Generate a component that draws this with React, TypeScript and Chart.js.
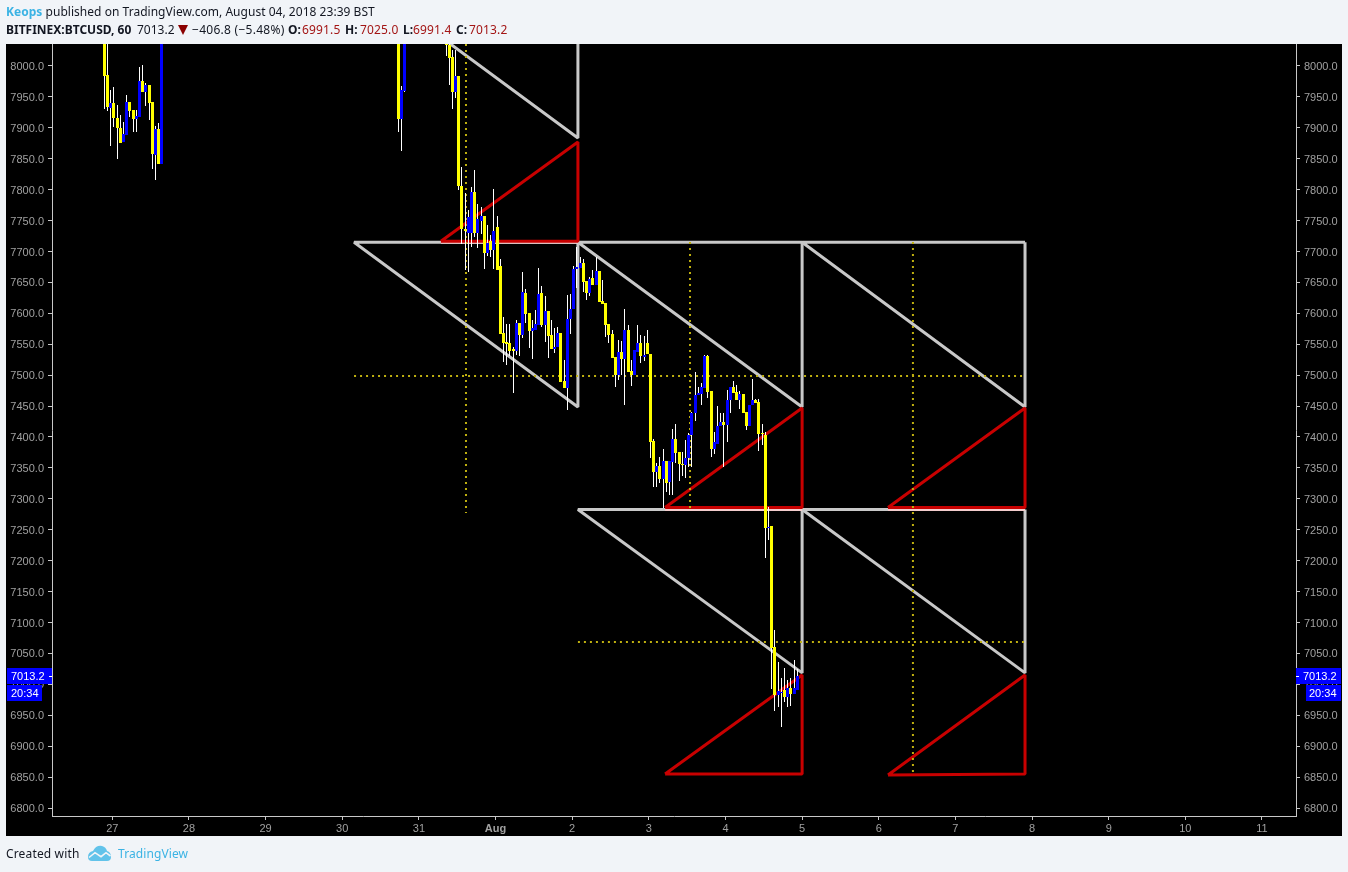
import React, { useEffect, useRef } from "react";
import { Chart, registerables } from "chart.js";

Chart.register(...registerables);

// Candles: only the runs that fall inside the visible price window.
const candleRuns = [
  [-2.5, 19],
  [89.5, 3],
  [104.5, 111],
];

const opens = [
  8060, 7985, 7932, 7940, 7916, 7900, 7877, 7888, 7942, 7929, 7914, 7917, 7976, 7958, 7969, 7942, 7856, 7898, 7841,
  8060, 7914, 7959,
  8040, 8034, 8014, 7958, 7984, 7806, 7736, 7730, 7730, 7796, 7730, 7749, 7757, 7698, 7717, 7702, 7740, 7676, 7568, 7554, 7552, 7542, 7539, 7584,
  7565, 7633, 7600, 7571, 7573, 7581, 7633, 7581, 7604, 7565, 7542, 7545, 7568, 7490, 7479, 7591, 7607, 7672, 7674, 7681, 7652, 7633, 7657, 7646,
  7668, 7620, 7617, 7583, 7567, 7529, 7500, 7537, 7526, 7573, 7507, 7500, 7537, 7552, 7530, 7552, 7534, 7393, 7343, 7353, 7332, 7361, 7327, 7360,
  7397, 7376, 7357, 7355, 7366, 7403, 7439, 7468, 7469, 7479, 7531, 7474, 7381, 7389, 7418, 7424, 7419, 7460, 7481, 7473, 7460, 7470, 7440, 7418,
  7452, 7460, 7457, 7406, 7403, 7253, 7256, 7060, 6983, 6986, 6991, 6979, 6994, 6984, 6991.5,
];

const closes = [
  7984, 7934, 7940, 7916, 7900, 7875, 7890, 7942, 7927, 7914, 7919, 7976, 7958, 7969, 7940, 7858, 7898, 7841, 8060,
  7914, 7961, 8060,
  8034, 8013, 7958, 7984, 7806, 7736, 7733, 7756, 7796, 7730, 7752, 7757, 7698, 7714, 7702, 7733, 7670, 7566, 7552, 7550, 7539, 7539, 7584, 7565,
  7634, 7599, 7571, 7576, 7583, 7631, 7581, 7604, 7563, 7542, 7545, 7568, 7489, 7479, 7591, 7607, 7672, 7675, 7681, 7651, 7633, 7655, 7646, 7668,
  7618, 7615, 7581, 7565, 7528, 7500, 7537, 7526, 7573, 7505, 7500, 7541, 7552, 7531, 7532, 7534, 7392, 7343, 7353, 7332, 7361, 7326, 7361, 7397,
  7374, 7356, 7355, 7366, 7403, 7439, 7468, 7471, 7481, 7531, 7473, 7381, 7392, 7418, 7424, 7419, 7460, 7481, 7471, 7460, 7470, 7439, 7418, 7452,
  7460, 7455, 7405, 7405, 7253, 7254, 7059, 6983, 6989, 6988, 6980, 6994, 6984, 6994, 7013.2,
];

const highs = [
  8070, 8040, 7961, 7966, 7937, 7921, 7909, 7953, 7942, 7929, 7929, 7998, 8002, 7972, 7969, 7942, 7903, 7908, 8070,
  8065, 7968, 8065,
  8045, 8045, 8026, 8026, 7984, 7837, 7795, 7767, 7804, 7832, 7777, 7772, 7757, 7743, 7727, 7801, 7757, 7688, 7594, 7583, 7583, 7545, 7589, 7584,
  7667, 7639, 7600, 7589, 7605, 7673, 7644, 7628, 7604, 7589, 7576, 7578, 7568, 7524, 7630, 7631, 7676, 7707, 7691, 7688, 7652, 7659, 7670, 7691,
  7668, 7654, 7617, 7583, 7573, 7529, 7557, 7555, 7607, 7581, 7524, 7541, 7581, 7565, 7563, 7573, 7534, 7397, 7358, 7368, 7381, 7361, 7361, 7413,
  7421, 7376, 7376, 7395, 7406, 7441, 7505, 7481, 7488, 7533, 7532, 7475, 7408, 7450, 7439, 7439, 7476, 7481, 7490, 7484, 7474, 7470, 7441, 7452,
  7494, 7461, 7461, 7421, 7408, 7287, 7256, 7088, 7036, 7010, 7026, 7007, 7010, 7039, 7025,
];

const lows = [
  7930, 7927, 7871, 7901, 7850, 7875, 7877, 7888, 7918, 7893, 7893, 7917, 7958, 7935, 7913, 7833, 7816, 7841, 7841,
  7893, 7862, 7958,
  8016, 7969, 7930, 7948, 7799, 7712, 7670, 7667, 7707, 7723, 7706, 7728, 7672, 7693, 7691, 7672, 7670, 7566, 7521, 7516, 7531, 7471, 7533, 7531,
  7560, 7584, 7544, 7526, 7573, 7581, 7578, 7554, 7528, 7542, 7536, 7545, 7489, 7479, 7444, 7566, 7607, 7641, 7674, 7634, 7621, 7628, 7646, 7646,
  7618, 7615, 7562, 7552, 7528, 7481, 7492, 7500, 7452, 7505, 7482, 7500, 7537, 7520, 7523, 7534, 7366, 7319, 7319, 7326, 7285, 7311, 7306, 7306,
  7358, 7329, 7337, 7334, 7351, 7351, 7426, 7468, 7452, 7479, 7463, 7368, 7372, 7389, 7418, 7351, 7392, 7439, 7471, 7460, 7445, 7439, 7411, 7418,
  7452, 7455, 7377, 7387, 7204, 7233, 6992, 6957, 6963, 6931, 6971, 6963, 6965, 6984, 6991.4,
];

const yTickValues = [
  6800, 6850, 6900, 6950, 7000, 7050, 7100, 7150, 7200, 7250, 7300, 7350, 7400, 7450, 7500, 7550, 7600, 7650, 7700,
  7750, 7800, 7850, 7900, 7950, 8000,
];
const xTickHours = [0, 24, 48, 72, 96, 120, 144, 168, 192, 216, 240, 264, 288, 312, 336, 360];
const xTickLabels = ["27", "28", "29", "30", "31", "Aug", "2", "3", "4", "5", "6", "7", "8", "9", "10", "11"];

// Hand-drawn shapes, as [hour, price] paths.
const grayPaths = [
  [[75.7, 8150.4], [145.8, 7883.5], [145.8, 8150.4]],
  [[145.8, 7714.9], [75.7, 7714.9], [145.8, 7448.5], [145.8, 7714.9]],
  [[216, 7714.9], [145.8, 7714.9], [216, 7448.5], [216, 7714.9]],
  [[285.8, 7714.9], [216, 7714.9], [285.8, 7448.5], [285.8, 7714.9]],
  [[216, 7282.7], [145.8, 7282.7], [216, 7018.5], [216, 7282.7]],
  [[285.8, 7282.7], [216, 7282.7], [285.8, 7018.5], [285.8, 7282.7]],
];
const tintPaths = [
  [[102.9, 7714.9], [145.8, 7714.9]],
  [[173.1, 7282.7], [216, 7282.7]],
  [[242.9, 7282.7], [285.8, 7282.7]],
];
const redPaths = [
  [[102.9, 7716.5], [145.8, 7877], [145.8, 7716.5], [102.9, 7716.5]],
  [[173.1, 7286], [216, 7446.9], [216, 7286], [173.1, 7286]],
  [[242.9, 7286], [285.8, 7446.9], [285.8, 7286], [242.9, 7286]],
  [[173.1, 6855], [216, 7015], [216, 6855], [173.1, 6855]],
  [[242.9, 6853.4], [285.8, 7015], [285.8, 6855], [242.9, 6853.4]],
];
const dottedPaths = [
  [[110.75, 8035.5], [110.75, 7277]],
  [[180.9, 7715.3], [180.9, 7283]],
  [[250.7, 7715.3], [250.7, 6853.4]],
  [[75.7, 7498.6], [285.8, 7498.6]],
  [[145.8, 7068.5], [285.8, 7068.5]],
];

const lastPrice = 7013.2;
const countdown = "20:34";

const UP = "#0000ff";
const DOWN = "#ffff00";
const BG = "#f1f4f8";

const candleHours: number[] = candleRuns.flatMap(([start, n]) => Array.from({ length: n }, (_, i) => start + i));

const pathDataset = (path: number[][], color: string, width: number, order: number, dash: number[] = []) => ({
  type: "line" as const,
  data: path.map(([x, y]) => ({ x, y })),
  borderColor: color,
  borderWidth: width,
  borderDash: dash,
  borderJoinStyle: "bevel" as const,
  pointRadius: 0,
  tension: 0,
  fill: false,
  order,
  yAxisID: "y",
});

const snapCandles = {
  id: "snapCandles",
  beforeDatasetsDraw(chart: any) {
    chart.data.datasets.forEach((ds: any, i: number) => {
      if (ds.type === "line") return;
      chart.getDatasetMeta(i).data.forEach((el: any) => {
        el.x = Math.floor(el.x) + 0.5;
        el.y = Math.round(el.y);
        el.base = Math.round(el.base);
      });
    });
  },
};

const blackPanel = {
  id: "blackPanel",
  beforeDraw(chart: any) {
    const { ctx, width, height, chartArea } = chart;
    ctx.save();
    ctx.fillStyle = "#000";
    ctx.fillRect(6, chartArea.top, width - 12, height - 36 - chartArea.top);
    ctx.restore();
  },
};

const priceTags = {
  id: "priceTags",
  afterDraw(chart: any) {
    const { ctx, scales } = chart;
    const py = Math.round(scales.y.getPixelForValue(lastPrice));
    const top = py - 8;
    ctx.save();
    ctx.fillStyle = UP;
    ctx.fillRect(7, top, 45, 16);
    ctx.fillRect(7, top + 17, 35, 16);
    ctx.fillRect(1296, top, 45, 16);
    ctx.fillRect(1306, top + 17, 35, 16);
    ctx.fillStyle = "#fff";
    ctx.fillRect(49, py, 3, 1);
    ctx.fillRect(1296, py, 3, 1);
    ctx.font = '11px "Liberation Sans"';
    ctx.textBaseline = "middle";
    ctx.textAlign = "left";
    const label = lastPrice.toFixed(1);
    ctx.fillText(label, 11, top + 8.5);
    ctx.fillText(countdown, 11, top + 25.5);
    ctx.fillText(label, 1303, top + 8.5);
    ctx.fillText(countdown, 1309, top + 25.5);
    ctx.restore();
  },
};

export default function App() {
  const ref = useRef<HTMLCanvasElement>(null);

  useEffect(() => {
    document.body.style.background = BG;
    const wicks = candleHours.map((x, i) => ({ x, y: [lows[i], highs[i]] }));
    const bodies = candleHours.map((x, i) => ({ x, y: [opens[i], closes[i]] }));
    const bodyColors = candleHours.map((_, i) => (closes[i] >= opens[i] ? UP : DOWN));

    const axisColor = "#c8c8c8";
    const tickFont = { family: '"Liberation Sans"', size: 11 };
    const yAxis = (position: string, padding: number) => ({
      type: "linear",
      position,
      min: 6787.1,
      max: 8035.5,
      afterBuildTicks(axis: any) {
        axis.ticks = yTickValues.map((value) => ({ value }));
      },
      afterFit(axis: any) {
        axis.width = 46;
      },
      border: { color: axisColor, width: 1 },
      grid: { drawOnChartArea: false, tickLength: 4, color: axisColor, tickWidth: 1 },
      ticks: {
        color: "#a0a0a0",
        font: tickFont,
        padding,
        labelOffset: 1,
        autoSkip: false,
        maxRotation: 0,
        callback: (v: any) => Number(v).toFixed(1),
      },
    });

    const chart = new Chart(ref.current as HTMLCanvasElement, {
      type: "bar",
      data: {
        datasets: [
          ...grayPaths.map((p) => pathDataset(p, "#c8c8c8", 3, 20)),
          ...tintPaths.map((p) => pathDataset(p, "#f3cccc", 3, 19)),
          ...redPaths.map((p) => pathDataset(p, "#c80000", 3, 18)),
          ...dottedPaths.map((p) => pathDataset(p, "#bfb010", 2, 17, [2, 4])),
          {
            data: wicks,
            backgroundColor: "#ffffff",
            barThickness: 1,
            inflateAmount: 0,
            grouped: false,
            order: 5,
            yAxisID: "y",
          },
          {
            data: bodies,
            backgroundColor: bodyColors,
            barThickness: 3,
            inflateAmount: 0,
            minBarLength: 1,
            grouped: false,
            order: 1,
            yAxisID: "y",
          },
        ] as any,
      },
      options: {
        animation: false,
        responsive: false,
        devicePixelRatio: 1,
        layout: { padding: { left: 6, right: 6, top: 44, bottom: 36 } },
        plugins: { legend: { display: false }, tooltip: { enabled: false } },
        scales: {
          x: {
            type: "linear",
            offset: false,
            min: -18.88,
            max: 370.65,
            afterBuildTicks(axis: any) {
              axis.ticks = xTickHours.map((value) => ({ value }));
            },
            afterFit(axis: any) {
              axis.height = 20;
            },
            border: { color: axisColor, width: 1 },
            grid: { offset: false, drawOnChartArea: false, tickLength: 4, color: axisColor },
            ticks: {
              color: "#a0a0a0",
              font: (ctx: any) => ({
                ...tickFont,
                weight: ctx.tick && xTickLabels[xTickHours.indexOf(ctx.tick.value)] === "Aug" ? "bold" : "normal",
              }),
              padding: 2,
              autoSkip: false,
              maxRotation: 0,
              callback: (v: any) => xTickLabels[xTickHours.indexOf(Number(v))],
            },
          },
          y: yAxis("left", 4),
          yR: yAxis("right", 4),
        } as any,
      },
      plugins: [blackPanel, snapCandles, priceTags],
    } as any);
    return () => chart.destroy();
  }, []);

  const at = (left: number, extra: any = {}) => ({
    position: "absolute" as const,
    left,
    top: 21,
    lineHeight: "17px",
    whiteSpace: "nowrap" as const,
    ...extra,
  });
  const bold = { fontWeight: 700 };
  const red = { color: "#a31515", letterSpacing: "0.15px" };
  return (
    <div
      style={{
        position: "fixed",
        left: 0,
        top: 0,
        width: 1348,
        height: 872,
        overflow: "hidden",
        background: BG,
        fontFamily: '"Noto Sans", sans-serif',
        fontSize: 12,
        color: "#131722",
      }}
    >
      <canvas ref={ref} width={1348} height={872} style={{ position: "absolute", left: 0, top: 0, display: "block" }} />
      <div style={{ position: "absolute", left: 6, top: 3, whiteSpace: "nowrap", lineHeight: "17px", letterSpacing: "0.03px" }}>
        <span style={{ fontWeight: 700, color: "#3bb3e4" }}>Keops</span> published on TradingView.com, August 04, 2018 23:39 BST
      </div>
      <div style={at(6, bold)}>BITFINEX:BTCUSD, 60</div>
      <div style={at(137)}>7013.2</div>
      <div
        style={{
          position: "absolute",
          left: 178,
          top: 25,
          width: 0,
          height: 0,
          borderLeft: "5.5px solid transparent",
          borderRight: "5.5px solid transparent",
          borderTop: "10px solid #8b0000",
        }}
      />
      <div style={at(192, { letterSpacing: "0.27px" })}>−406.8 (−5.48%)</div>
      <div style={at(288, bold)}>O:</div>
      <div style={at(302, red)}>6991.5</div>
      <div style={at(345, bold)}>H:</div>
      <div style={at(360, red)}>7025.0</div>
      <div style={at(403, bold)}>L:</div>
      <div style={at(413, red)}>6991.4</div>
      <div style={at(456, bold)}>C:</div>
      <div style={at(469, red)}>7013.2</div>
      <div style={{ position: "absolute", left: 6, top: 845, whiteSpace: "nowrap", lineHeight: "18px", letterSpacing: "0.15px" }}>
        Created with
      </div>
      <svg style={{ position: "absolute", left: 87, top: 844 }} width="25" height="18" viewBox="0 0 25 18">
        <path
          d="M1 13 Q1 8 6 7 Q9 1 15 2 Q19 3 20 7 Q24 8 24 13 Q24 17 20 17 L5 17 Q1 17 1 13 Z"
          fill="#62c3ea"
        />
        <path d="M2 13.5 L8 8.7 L14 12.7 L19 8.7 L23.5 12" fill="none" stroke={BG} strokeWidth="1.6" />
      </svg>
      <div style={{ position: "absolute", left: 118, top: 845, whiteSpace: "nowrap", lineHeight: "18px", color: "#3bb3e4", letterSpacing: "0.1px" }}>
        TradingView
      </div>
    </div>
  );
}
